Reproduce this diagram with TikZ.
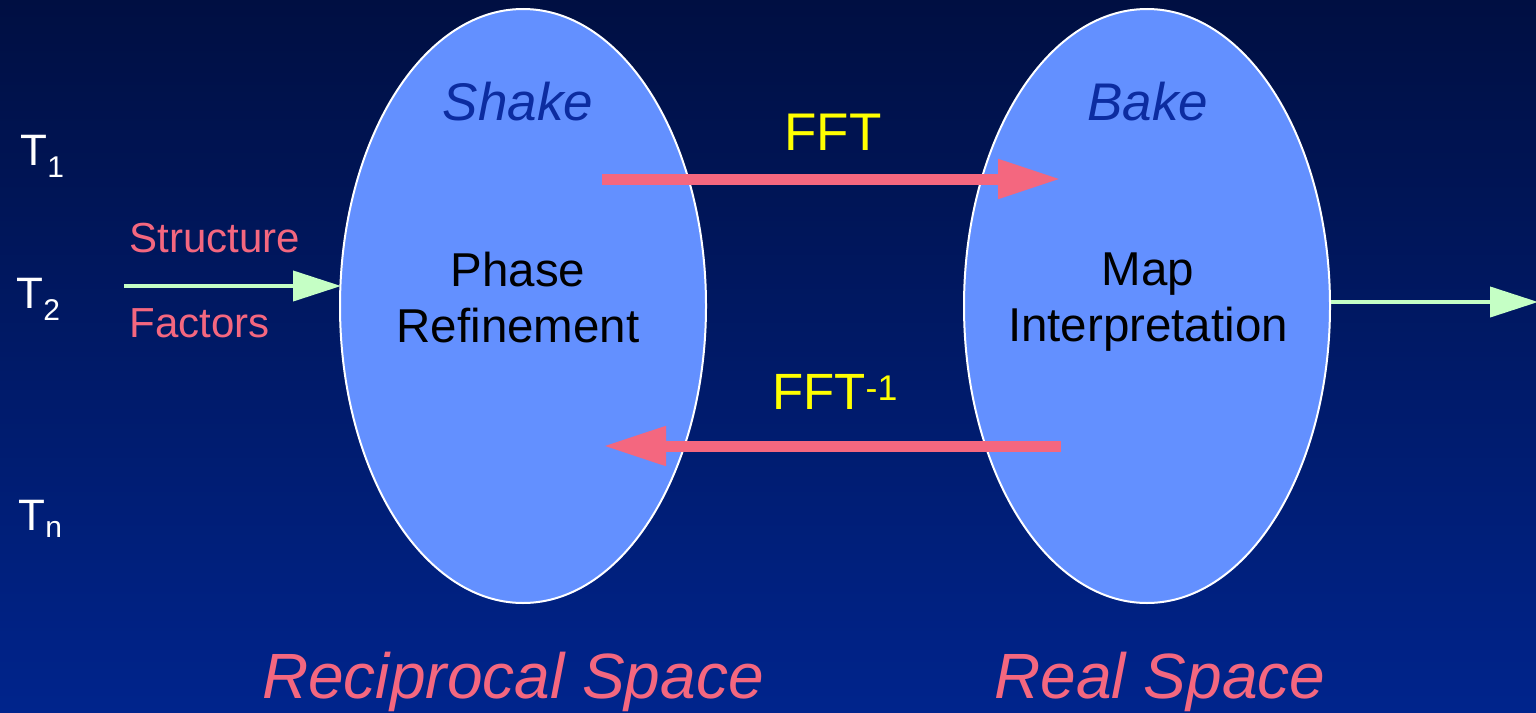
\documentclass[tikz,border=0pt]{standalone}
\usepackage{fontspec}
\setmainfont{Liberation Sans}
\usetikzlibrary{shapes.geometric,arrows.meta}
\definecolor{bgtop}{RGB}{0,15,66}
\definecolor{bgbot}{RGB}{0,36,140}
\definecolor{blobfill}{RGB}{99,144,255}
\definecolor{pinkish}{RGB}{244,103,127}
\definecolor{mint}{RGB}{197,255,197}
\definecolor{fftyellow}{RGB}{255,255,0}
\definecolor{stagecol}{RGB}{12,44,160}
\tikzset{
  blob/.style={ellipse, draw=white, line width=2pt, fill=blobfill,
    minimum width=366pt, minimum height=594pt, inner sep=0pt},
  fftarrow/.style={draw=pinkish, line width=11pt,
    -{Triangle[length=63pt,width=37pt,fill=pinkish]}},
  flowarrow/.style={draw=mint, line width=4pt,
    -{Triangle[length=48pt,width=30pt,fill=mint]}},
  body/.style={font=\fontsize{47.5}{56}\selectfont, text=black, align=center},
  stage/.style={font=\itshape\fontsize{53}{60}\selectfont, text=stagecol},
  fftlbl/.style={font=\fontsize{53}{58}\selectfont, text=fftyellow},
  sflbl/.style={font=\fontsize{42}{48}\selectfont, text=pinkish, anchor=base west},
  spacelbl/.style={font=\itshape\fontsize{64}{72}\selectfont, text=pinkish, anchor=base},
  tlbl/.style={font=\fontsize{44}{50}\selectfont, text=white, anchor=base west}
}
\begin{document}
\begin{tikzpicture}[x=1pt,y=1pt]
  % backdrop
  \shade[top color=bgtop, bottom color=bgbot] (0,0) rectangle (1536,-712);
  \useasboundingbox (0,0) rectangle (1536,-712);

  % the two spaces
  \node[blob] (L) at (523,-306) {};
  \node[blob] (R) at (1147,-306) {};

  \node[stage] (shake) at (518,-102) {Shake};
  \node[stage] (bake) at (1148,-102) {Bake};
  \node[body] (phase) at (518,-298) {Phase\\Refinement};
  \node[body] (map) at (1148,-302) {Map\\Interpretation};

  % transforms between the spaces
  \coordinate (fa) at (602,-179);
  \coordinate (fb) at (1061,-179);
  \coordinate (ia) at (1061,-446);
  \coordinate (ib) at (603,-446);
  \draw[fftarrow] (fa) -- (fb);
  \draw[fftarrow] (ia) -- (ib);
  \node[fftlbl] (fft) at (833,-132) {FFT};
  \node[fftlbl, font=\fontsize{51}{58}\selectfont] (ifft) at (835,-392) {FFT\textsuperscript{-1}};

  % input structure factors
  \coordinate (sfin) at (124,-286);
  \coordinate (sfend) at (341,-286);
  \draw[flowarrow] (sfin) -- (sfend);
  \node[sflbl] (struct) at (126,-252) {Structure};
  \node[sflbl] (fact) at (126,-337) {Factors};

  % output of the map
  \coordinate (outst) at (1331,-302);
  \coordinate (outend) at (1538,-302);
  \draw[flowarrow] (outst) -- (outend);

  % trial structures
  \node[tlbl] (t1) at (17,-165) {T\textsubscript{\fontsize{30}{32}\selectfont 1}};
  \node[tlbl] (t2) at (13,-308) {T\textsubscript{\fontsize{30}{32}\selectfont 2}};
  \node[tlbl] (tn) at (15,-530) {T\textsubscript{\fontsize{30}{32}\selectfont n}};

  % space captions
  \node[spacelbl] (recip) at (513,-698) {Reciprocal Space};
  \node[spacelbl] (real) at (1160,-698) {Real Space};
\end{tikzpicture}
\end{document}
